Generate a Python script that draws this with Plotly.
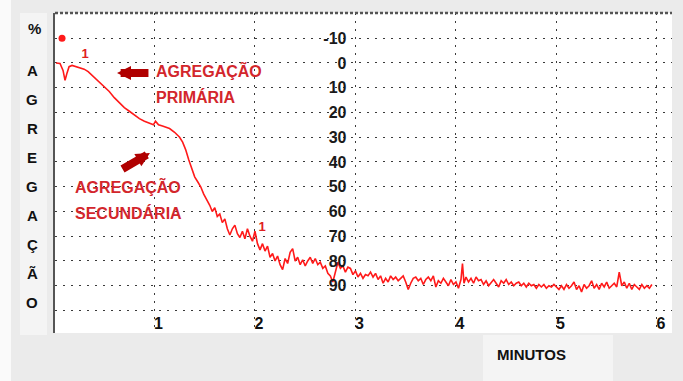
import plotly.graph_objects as go

# Platelet aggregation trace: time in minutes, aggregation in %
t_min = [
    0.02, 0.06, 0.09, 0.11, 0.13, 0.15, 0.18, 0.22, 0.26, 0.30,
    0.34, 0.38, 0.42, 0.46, 0.50, 0.55, 0.60, 0.65, 0.70, 0.75,
    0.80, 0.85, 0.90, 0.95, 0.99, 1.01, 1.04, 1.08, 1.12, 1.15,
    1.20, 1.25, 1.28, 1.31, 1.34, 1.37, 1.40, 1.43, 1.46, 1.49,
    1.52,
    1.550, 1.575, 1.600, 1.625, 1.650, 1.675, 1.700, 1.725, 1.750, 1.775,
    1.800, 1.825, 1.850, 1.875, 1.900, 1.925, 1.950, 1.975, 2.000, 2.025,
    2.050, 2.075, 2.100, 2.125, 2.150, 2.175, 2.200, 2.225, 2.250, 2.275,
    2.300, 2.325, 2.350, 2.375, 2.400, 2.425, 2.450, 2.475, 2.500, 2.525,
    2.550, 2.575, 2.600, 2.625, 2.650, 2.675, 2.700, 2.725, 2.750, 2.775,
    2.800, 2.825, 2.850, 2.875, 2.900, 2.925, 2.950, 2.975, 3.000, 3.025,
    3.050, 3.075, 3.100, 3.125, 3.150, 3.175, 3.200, 3.225, 3.250, 3.275,
    3.300, 3.325, 3.350, 3.375, 3.400, 3.425, 3.450, 3.475, 3.500, 3.525,
    3.550, 3.575, 3.600, 3.625, 3.650, 3.675, 3.700, 3.725, 3.750, 3.775,
    3.800, 3.825, 3.850, 3.875, 3.900, 3.925, 3.950, 3.975, 4.000, 4.025,
    4.050, 4.065, 4.080, 4.100, 4.125, 4.150, 4.175, 4.200, 4.225, 4.250,
    4.275, 4.300, 4.325, 4.350, 4.375, 4.400, 4.425, 4.450, 4.475, 4.500,
    4.525, 4.550, 4.575, 4.600, 4.625, 4.650, 4.675, 4.700, 4.725, 4.750,
    4.775, 4.800, 4.825, 4.850, 4.875, 4.900, 4.925, 4.950, 4.975, 5.000,
    5.025, 5.050, 5.075, 5.100, 5.125, 5.150, 5.175, 5.200, 5.225, 5.250,
    5.275, 5.300, 5.325, 5.350, 5.375, 5.400, 5.425, 5.450, 5.475, 5.500,
    5.525, 5.550, 5.575, 5.600, 5.625, 5.650, 5.675, 5.700, 5.725, 5.750,
    5.775, 5.800, 5.825, 5.850, 5.875, 5.900, 5.925, 5.950,
]
agg_pct = [
    0.0, 0.2, 3.0, 7.0, 4.0, 1.5, 1.0, 1.5, 2.0, 2.5,
    3.5, 5.0, 6.5, 8.0, 9.5, 11.5, 14.0, 16.0, 18.0, 19.5,
    21.0, 22.5, 23.5, 24.5, 25.0, 23.5, 25.0, 25.5, 26.0, 26.5,
    28.0, 30.0, 32.0, 35.0, 39.0, 43.0, 46.0, 48.0, 50.0, 53.0,
    55.0,
    57.5, 60.0, 58.5, 62.0, 61.0, 64.5, 63.0, 67.0, 69.5, 67.0,
    65.5, 69.0, 70.5, 68.0, 71.0, 67.0, 70.0, 72.0, 68.0, 73.0,
    75.5, 73.0, 76.0, 74.0, 78.5, 77.0, 80.0, 78.0, 81.5, 83.5,
    79.0, 81.0, 76.5, 75.0, 80.0, 78.5, 81.5, 79.5, 82.0, 80.0,
    78.5, 81.0, 79.0, 81.5, 80.5, 83.0, 82.0, 85.0, 86.0, 88.5,
    84.0, 80.5, 83.0, 82.0, 84.5, 82.5, 83.0, 85.5, 84.0, 86.5,
    85.0, 87.0, 85.5, 86.0, 84.5, 86.5, 85.0, 87.5, 86.0, 89.0,
    87.0, 88.5, 86.0, 87.5, 86.5, 88.0, 87.0, 86.0, 88.5, 91.5,
    89.0, 87.0, 86.5, 88.0, 87.0, 89.5, 87.5, 86.5, 88.0, 86.0,
    90.5, 88.0, 89.0, 87.0, 88.5, 90.0, 87.5, 89.5, 88.5, 91.0,
    87.5, 81.0, 89.0, 86.5, 88.5, 87.0, 89.0, 86.5, 88.0, 87.5,
    89.5, 88.0, 90.0, 88.5, 87.5, 89.0, 90.5, 88.0, 89.0, 87.5,
    89.5, 88.5, 90.0, 89.0, 88.5, 90.0, 89.0, 90.5, 89.0, 90.0,
    89.5, 91.0, 89.5, 90.5, 89.5, 91.0, 90.0, 90.5, 89.5, 90.5,
    91.5, 90.0, 91.5, 89.5, 91.0, 90.0, 88.5, 91.5, 90.0, 92.5,
    89.5, 91.0, 90.0, 88.0, 91.0, 89.5, 91.5, 89.0, 90.5, 88.5,
    91.0, 90.0, 89.0, 90.5, 84.5, 90.0, 88.5, 91.0, 89.0, 91.5,
    89.5, 90.5, 91.5, 89.5, 91.0, 90.0, 91.0, 89.5,
]

# Start marker and event marks ("1") on the trace
start_t = [0.08]
start_agg = [-10]
event_t = [0.31, 2.07]
event_agg = [-3.2, 66.7]

# Axis ticks
x_ticks = [1, 2, 3, 4, 5, 6]
y_grid = [-10, 0, 10, 20, 30, 40, 50, 60, 70, 80, 90, 100]
y_labels = [-10, 0, 10, 20, 30, 40, 50, 60, 70, 80, 90]
side_title = ["A", "G", "R", "E", "G", "A", "Ç", "Ã", "O"]

X_RANGE = [0.01, 6.15]
Y_RANGE = [109.1, -20.2]

W, H = 683, 381
L, R, T, B = 55, 11, 13, 48
PW, PH = W - L - R, H - T - B


def px_x(px):
    return (px - L) / PW


def px_y(py):
    return (H - B - py) / PH


RED_TEXT = "#d3262c"
ARROW_RED = "#b00000"
LINE_RED = "#ff1a1a"
FONT = "Liberation Sans"

fig = go.Figure()

fig.add_trace(go.Scatter(
    x=t_min, y=agg_pct, mode="lines",
    line=dict(color=LINE_RED, width=1.6),
    hoverinfo="skip",
))
fig.add_trace(go.Scatter(
    x=start_t, y=start_agg, mode="markers", yaxis="y2",
    marker=dict(color=LINE_RED, size=7),
    hoverinfo="skip",
))
fig.add_trace(go.Scatter(
    x=event_t, y=event_agg, mode="text", text=["1"] * len(event_t),
    textfont=dict(family=FONT, size=13, color="#e02020", weight="bold"),
    hoverinfo="skip",
))

grid = dict(showgrid=True, gridcolor="#3a3a3a", gridwidth=1, griddash="2px,6px",
            zeroline=False)

fig.update_layout(
    width=W, height=H,
    margin=dict(l=L, r=R, t=T, b=B),
    paper_bgcolor="#ebebeb",
    plot_bgcolor="#ffffff",
    showlegend=False,
    xaxis=dict(
        range=X_RANGE, tickvals=x_ticks, ticktext=[str(v) for v in x_ticks],
        ticks="", ticklabelposition="inside", ticklabelshift=4,
        ticklabelstandoff=-2,
        tickfont=dict(family=FONT, size=16, color="#111111", weight="bold"),
        showline=False, **grid,
    ),
    yaxis=dict(
        range=Y_RANGE, tickvals=y_grid, showticklabels=False, ticks="",
        showline=True, linecolor="#555555", linewidth=2, **grid,
    ),
    yaxis2=dict(
        range=Y_RANGE, overlaying="y", anchor="free",
        position=(3 - X_RANGE[0]) / (X_RANGE[1] - X_RANGE[0]), side="left",
        tickvals=y_labels, ticktext=[str(v) for v in y_labels],
        ticks="", ticklabelstandoff=9, showgrid=False, zeroline=False,
        showline=False,
        tickfont=dict(family=FONT, size=16, color="#1a1a1a", weight="bold"),
    ),
)

# Panel strips around the plot
fig.add_shape(type="rect", xref="paper", yref="paper", layer="below",
              x0=px_x(0), x1=px_x(11), y0=px_y(H), y1=px_y(0),
              fillcolor="#fafafa", line_width=0)
fig.add_shape(type="rect", xref="paper", yref="paper", layer="below",
              x0=px_x(20), x1=px_x(47), y0=px_y(335), y1=px_y(13),
              fillcolor="#f4f4f4", line_width=0)
fig.add_shape(type="rect", xref="paper", yref="paper", layer="below",
              x0=px_x(483), x1=px_x(613), y0=px_y(H), y1=px_y(335),
              fillcolor="#f4f4f4", line_width=0)
# Dotted top border
fig.add_shape(type="line", xref="paper", yref="paper",
              x0=0, x1=1, y0=1, y1=1,
              line=dict(color="#555555", width=2.5, dash="3px,2px"))

centered = dict(xref="paper", yref="paper", xanchor="center", yanchor="middle",
                showarrow=False)

# Vertical axis title, one letter per line
fig.add_annotation(x=px_x(34), y=px_y(28), text="%",
                   font=dict(family=FONT, size=15, color="#111111", weight="bold"),
                   **centered)
for i, ch in enumerate(side_title):
    fig.add_annotation(x=px_x(32), y=px_y(70 + i * 29.1), text=ch,
                       font=dict(family=FONT, size=15, color="#111111", weight="bold"),
                       **centered)

fig.add_annotation(x=px_x(531), y=px_y(354), text="MINUTOS",
                   font=dict(family=FONT, size=15, color="#111111", weight="bold"),
                   **centered)

# Phase labels
for txt, (px, py) in [("AGREGAÇÃO", (154, 70)), ("PRIMÁRIA", (154, 97)),
                      ("AGREGAÇÃO", (73, 186)), ("SECUNDÁRIA", (73, 213))]:
    fig.add_annotation(xref="paper", yref="paper", x=px_x(px), y=px_y(py),
                       xanchor="left", yanchor="middle", text=txt, showarrow=False,
                       font=dict(family=FONT, size=16, color=RED_TEXT, weight="bold"))

# Arrows pointing at the two phases
for (hx, hy), (tx, ty) in [((0.627, 4.0), (0.955, 4.0)),
                           ((0.955, 36.4), (0.667, 43.2))]:
    fig.add_annotation(x=hx, y=hy, ax=tx, ay=ty, xref="x", yref="y",
                       axref="x", ayref="y", text="", showarrow=True,
                       arrowhead=2, arrowsize=0.35, arrowwidth=8,
                       arrowcolor=ARROW_RED)

fig.write_html("out.html")
